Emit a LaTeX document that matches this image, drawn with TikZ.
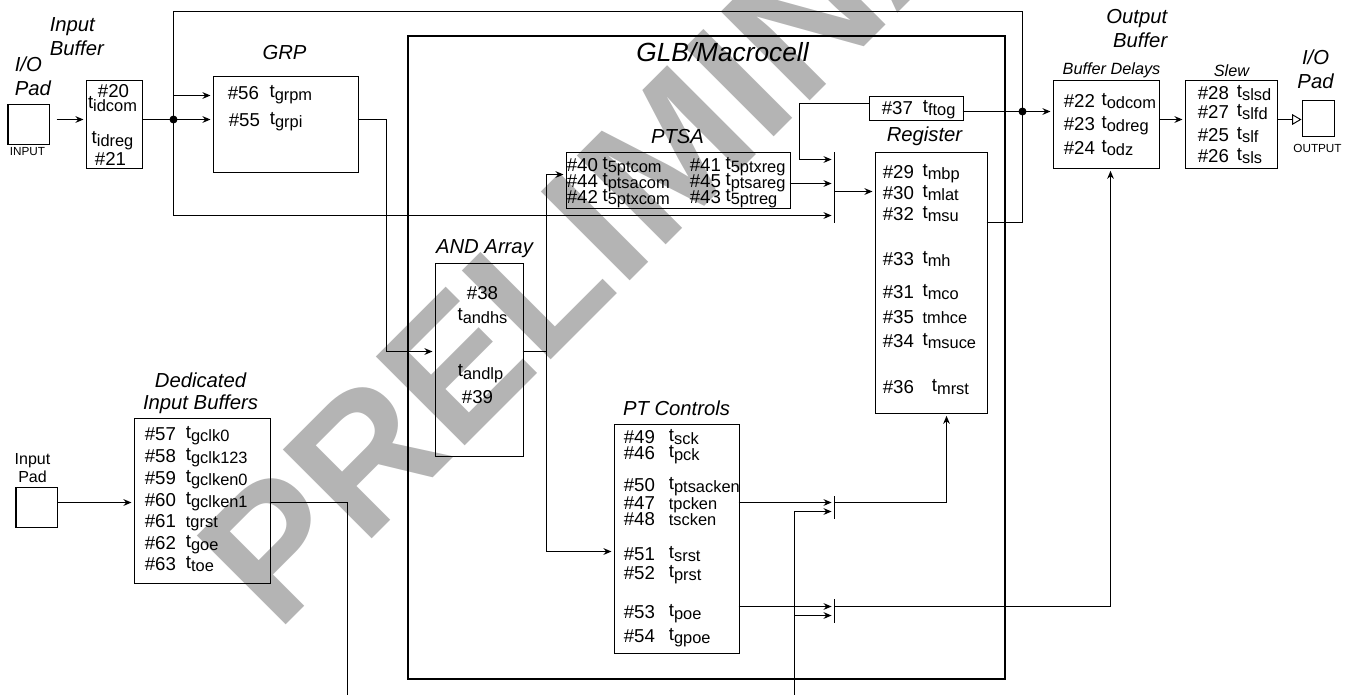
\documentclass[tikz,border=0pt]{standalone}
\usepackage{fontspec}
\setmainfont{Liberation Sans}
\usetikzlibrary{arrows.meta, positioning, calc}
\definecolor{wmgray}{HTML}{B4B4B4}
\newcommand{\sbs}[1]{{\fontsize{12.3}{12.3}\selectfont #1}}
\newcommand{\tsb}[1]{\raisebox{1.2pt}{t}\raisebox{-1.2pt}{\sbs{#1}}}
\newcommand{\dly}[3][8pt]{\#{#2}\hspace{#1}\tsb{#3}}
\tikzset{
  box/.style={
    draw, line width=1pt, anchor=north west, inner sep=0pt
  },
  row/.style={
    anchor=west, inner sep=0pt, text height=10pt, text depth=0pt,
    font=\fontsize{14}{14}\selectfont
  },
  cen/.style={row, anchor=center},
  ttl/.style={
    inner sep=0pt, align=center, font=\fontsize{15.2}{18}\selectfont\itshape
  },
  sttl/.style={inner sep=0pt, font=\fontsize{12.2}{14}\selectfont\itshape},
  bigttl/.style={inner sep=0pt, font=\fontsize{19.7}{20}\selectfont\itshape},
  padlbl/.style={inner sep=0pt, font=\fontsize{8.8}{10}\selectfont},
  wire/.style={line width=1pt},
  arr/.style={-{Stealth[length=6pt,width=5pt]}, line width=1pt, shorten >=1.5pt},
  oarr/.style={-{Triangle[open,length=7pt,width=8pt,line width=0.7pt]}, line width=1pt},
  bar/.style={fill=black, inner sep=0pt, minimum width=1pt, minimum height=#1},
  jdot/.style={circle, fill=black, inner sep=0pt, minimum size=6pt},
}
\begin{document}
\begin{tikzpicture}[x=0.75pt, y=-0.75pt]
    \useasboundingbox (0.5,0.5) rectangle (1352.5,694.5);

    % watermark
    \begin{scope}
      \clip (0.5,0.5) rectangle (1352.5,694.5);
      \node[inner sep=0pt, anchor=base west, rotate=45, text=wmgray,
        font=\fontsize{137}{137}\selectfont\bfseries] (wmark) at (277.5,634.5) {PRELIMINARY};
    \end{scope}

    % input side
    \node[box, minimum width=30.75pt, minimum height=30pt] (iopad) at (8,104) {};
    \node[padlbl] (iolbl) at (28,152) {INPUT};
    \node[ttl, align=left, anchor=west] (iottl) at (15,77) {I/O\\Pad};
    \node[ttl, align=left, anchor=west] (ibttl) at (50,37.5) {Input\\Buffer};

    \node[box, minimum width=42pt, minimum height=66pt] (ibuf) at (86,80) {};
    \node[cen] (n20) at (114,91) {\#20};
    \node[cen] (tidcom) at (113,103.5) {\tsb{idcom}};
    \node[cen] (tidreg) at (113,138.5) {\tsb{idreg}};
    \node[cen] (n21) at (111,159) {\#21};

    \node[box, minimum width=108.75pt, minimum height=72pt] (grp) at (213,76) {};
    \node[ttl] (grpttl) at (285,53) {GRP};
    \node[row] (n56) at (228,93) {\dly{56}{grpm}};
    \node[row] (n55) at (229,120) {\dly[7.5pt]{55}{grpi}};

    % dedicated inputs
    \node[box, minimum width=30.75pt, minimum height=30pt] (inpad) at (16,487) {};
    \node[inner sep=0pt, align=center, font=\fontsize{12}{13.5}\selectfont] (inttl) at (33,469) {Input\\Pad};

    \node[ttl, font=\fontsize{15.2}{16.5}\selectfont\itshape] (dedttl) at (201,394) {Dedicated\\Input Buffers};
    \node[box, minimum width=102pt, minimum height=123.75pt] (ded) at (134,418) {};
    \node[row] (n57) at (145,434) {\dly[7.5pt]{57}{gclk0}};
    \node[row] (n58) at (145,456) {\dly[7.5pt]{58}{gclk123}};
    \node[row] (n59) at (145,478) {\dly[7.5pt]{59}{gclken0}};
    \node[row] (n60) at (145,500) {\dly[7.5pt]{60}{gclken1}};
    \node[row] (n61) at (145,521) {\#61\hspace{7.5pt}\sbs{tgrst}};
    \node[row] (n62) at (145,543) {\dly[7.5pt]{62}{goe}};
    \node[row] (n63) at (145,564) {\dly[7.5pt]{63}{toe}};

    % GLB
    \node[box, line width=2.2pt, minimum width=447.75pt, minimum height=482.25pt] (glb) at (407,35) {};
    \node[bigttl] (glbttl) at (723,53) {GLB/Macrocell};

    \node[box, minimum width=66pt, minimum height=144.75pt] (andarr) at (435,263) {};
    \node[ttl] (andttl) at (485,249) {AND Array};
    \node[cen] (n38) at (483,293) {\#38};
    \node[cen] (tandhs) at (483,315.5) {\tsb{andhs}};
    \node[cen] (tandlp) at (481,371.5) {\tsb{andlp}};
    \node[cen] (n39) at (478,397) {\#39};

    \node[box, minimum width=168pt, minimum height=42pt] (ptsa) at (566,152) {};
    \node[ttl] (ptsattl) at (678,137) {PTSA};
    \node[row] (n40) at (567,165) {\dly[3.5pt]{40}{5ptcom}};
    \node[row] (n44) at (567,181) {\dly[3.5pt]{44}{ptsacom}};
    \node[row] (n42) at (567,197) {\dly[3.5pt]{42}{5ptxcom}};
    \node[row] (n41) at (690,165) {\dly[3.5pt]{41}{5ptxreg}};
    \node[row] (n45) at (690,181) {\dly[3.5pt]{45}{ptsareg}};
    \node[row] (n43) at (690,197) {\dly[3.5pt]{43}{5ptreg}};

    \node[box, minimum width=70.5pt, minimum height=18pt] (ftog) at (869,96) {};
    \node[row] (n37) at (882,108) {\dly[7.5pt]{37}{ftog}};

    \node[box, minimum width=84pt, minimum height=195.75pt] (reg) at (875,152) {};
    \node[ttl] (regttl) at (925,137) {Register};
    \node[row] (n29) at (883,172) {\dly[6.5pt]{29}{mbp}};
    \node[row] (n30) at (883,193) {\dly[6.5pt]{30}{mlat}};
    \node[row] (n32) at (883,214) {\dly[6.5pt]{32}{msu}};
    \node[row] (n33) at (883,259) {\dly[6.5pt]{33}{mh}};
    \node[row] (n31) at (883,292) {\dly[6.5pt]{31}{mco}};
    \node[row] (n35) at (883,317) {\#35\hspace{6.5pt}\sbs{tmhce}};
    \node[row] (n34) at (883,341) {\dly[6.5pt]{34}{msuce}};
    \node[row] (n36) at (883,387) {\dly[13.5pt]{36}{mrst}};

    \node[box, minimum width=93.75pt, minimum height=171.75pt] (ptc) at (614,424) {};
    \node[ttl] (ptcttl) at (677,409) {PT Controls};
    \node[row] (n49) at (624,437) {\dly[10.5pt]{49}{sck}};
    \node[row] (n46) at (624,453) {\dly[10.5pt]{46}{pck}};
    \node[row] (n50) at (624,485) {\dly[10.5pt]{50}{ptsacken}};
    \node[row] (n47) at (624,503) {\#47\hspace{10.5pt}\sbs{tpcken}};
    \node[row] (n48) at (624,519) {\#48\hspace{10.5pt}\sbs{tscken}};
    \node[row] (n51) at (624,554) {\dly[10.5pt]{51}{srst}};
    \node[row] (n52) at (624,573) {\dly[10.5pt]{52}{prst}};
    \node[row] (n53) at (624,612) {\dly[10.5pt]{53}{poe}};
    \node[row] (n54) at (624,636) {\dly[10.5pt]{54}{gpoe}};

    \node[bar=53.25pt] (mxreg) at (835,187.5) {};
    \node[bar=17.25pt] (mxclk) at (835,507.5) {};
    \node[bar=18pt] (mxoe) at (835,611) {};

    % output side
    \node[ttl, align=right, anchor=east] (obttl) at (1168,29.5) {Output\\Buffer};
    \node[sttl] (bdttl) at (1112,71) {Buffer Delays};
    \node[box, minimum width=79.5pt, minimum height=66pt] (obuf) at (1053,80) {};
    \node[row] (n22) at (1064,101) {\dly[5pt]{22}{odcom}};
    \node[row] (n23) at (1064,124) {\dly[5pt]{23}{odreg}};
    \node[row] (n24) at (1064,148) {\dly[5pt]{24}{odz}};

    \node[sttl] (slttl) at (1232,71) {Slew};
    \node[box, minimum width=69pt, minimum height=66pt] (slew) at (1185,80) {};
    \node[row] (n28) at (1198,93) {\dly[6pt]{28}{slsd}};
    \node[row] (n27) at (1198,112) {\dly[6pt]{27}{slfd}};
    \node[row] (n25) at (1198,135) {\dly[6pt]{25}{slf}};
    \node[row] (n26) at (1198,156) {\dly[6pt]{26}{sls}};

    \node[box, minimum width=24pt, minimum height=27pt] (outpad) at (1302,100) {};
    \node[padlbl] (outlbl) at (1318,149) {OUTPUT};
    \node[ttl] (outttl) at (1316,69.5) {I/O\\Pad};

    % connector points
    \coordinate (inarr) at (57,120);
    \coordinate (j1) at (174,120);
    \coordinate (j2) at (1023,112);
    \coordinate (top) at (174,12);
    \coordinate (gtap) at (174,96);
    \coordinate (lowr) at (174,216);
    \coordinate (grpout) at (358,120);
    \coordinate (bus) at (387,352);
    \coordinate (andout) at (523,352);
    \coordinate (pterm) at (547,352);
    \coordinate (ptsain) at (566,175);
    \coordinate (ptcin) at (614,552);
    \coordinate (ftl) at (869,104);
    \coordinate (ftr) at (963,112);
    \coordinate (fttap) at (800,160);
    \coordinate (ptsaout) at (790,184);
    \coordinate (mxout) at (835,192);
    \coordinate (regout) at (987,223);
    \coordinate (ckout) at (739,503);
    \coordinate (oeout) at (739,607);
    \coordinate (clkv) at (795,512);
    \coordinate (clkb) at (795,695);
    \coordinate (oetap) at (795,616);
    \coordinate (gclk) at (270,503);
    \coordinate (gend) at (348,695);
    \coordinate (bufrow) at (1160,120);

    % connectors
    \draw[arr] (inarr) -- (ibuf.west |- inarr);
    \draw[wire] (ibuf.east |- j1) -- (j1);
    \draw[arr] (j1) -- (grp.west |- j1);
    \node[jdot] (d1) at (j1) {};
    \draw[wire] (j1) -- (top) -| (j2);
    \draw[arr] (gtap) -- (grp.west |- gtap);
    \draw[arr] (j1) |- (mxreg.west |- lowr);
    \draw[wire] (grpout) -| (bus);
    \draw[arr] (bus) -- (andarr.west |- bus);
    \draw[wire] (andout) -- (pterm);
    \draw[arr] (pterm) |- (ptsain);
    \draw[arr] (pterm) |- (ptcin);
    \draw[arr] (ptsaout) -- (mxreg.west |- ptsaout);
    \draw[arr] (ftl) -| (fttap) -- (mxreg.west |- fttap);
    \draw[arr] (mxout) -- (reg.west |- mxout);
    \draw[wire] (ftr) -- (j2);
    \node[jdot] (d2) at (j2) {};
    \draw[arr] (j2) -- (obuf.west |- j2);
    \draw[wire] (regout) -| (j2);
    \draw[arr] (obuf.east |- bufrow) -- (slew.west |- bufrow);
    \draw[oarr] (slew.east |- bufrow) -- (outpad.west |- bufrow);
    \draw[arr] (inpad.east |- gclk) -- (ded.west |- gclk);
    \draw[wire] (gclk) -| (gend);
    \draw[arr] (ckout) -- (mxclk.west |- ckout);
    \draw[arr] (clkb) |- (mxclk.west |- clkv);
    \draw[arr] (oetap) -- (mxoe.west |- oetap);
    \draw[arr] (oeout) -- (mxoe.west |- oeout);
    \draw[arr] (mxclk.east |- ckout) -| (reg.south -| 947,0);
    \draw[arr] (mxoe.east |- oeout) -| (obuf.south -| 1111,0);
\end{tikzpicture}
\end{document}
